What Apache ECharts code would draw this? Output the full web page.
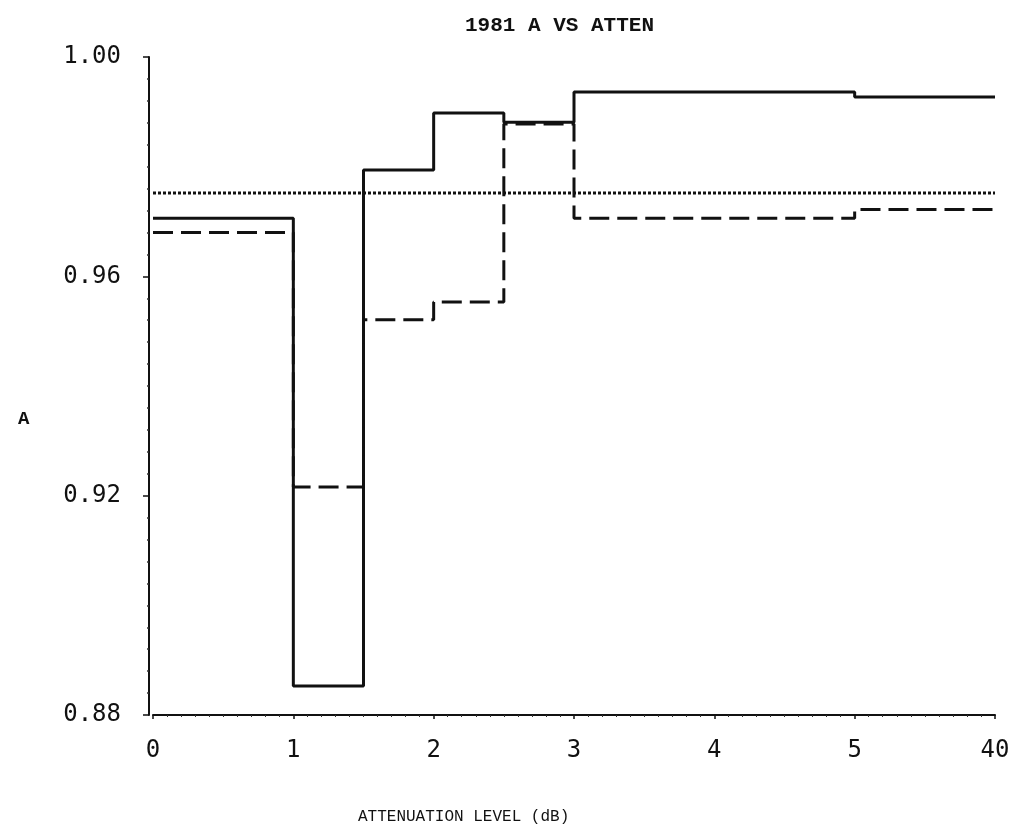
<!DOCTYPE html>
<html>
<head>
<meta charset="utf-8">
<script src="https://cdn.jsdelivr.net/npm/echarts@6/dist/echarts.min.js"></script>
<style>
  html, body { margin: 0; padding: 0; background: #fff; }
  #main { width: 1023px; height: 829px; }
</style>
</head>
<body>
<div id="main"></div>
<script>
// step edges along the attenuation axis (6 = the "40" position)
var stepStarts = [0, 1, 1.5, 2, 2.5, 3, 5];
var axisEnd = 6;
var xTickLabels = ['0', '1', '2', '3', '4', '5', '40'];

// A value held on each step
var solidA = [0.9706, 0.8853, 0.9794, 0.9898, 0.9881, 0.9936, 0.9927];
var dashedA = [0.968, 0.9216, 0.9521, 0.9553, 0.9878, 0.9706, 0.9722];
var dottedA = 0.9752;

function stepData(vals) {
    var out = [];
    for (var i = 0; i < vals.length; i++) {
        out.push([stepStarts[i], vals[i]]);
    }
    out.push([axisEnd, vals[vals.length - 1]]);
    return out;
}

var chartDom = document.getElementById('main');
var myChart = echarts.init(chartDom);

var lineBase = {
    type: 'line',
    step: 'end',
    showSymbol: false,
    symbol: 'none',
    animation: false
};

var option = {
    backgroundColor: '#fff',
    animation: false,
    title: [
        {
            text: '1981 A VS ATTEN',
            left: 460,
            top: 10,
            textStyle: { fontFamily: 'Liberation Mono', fontSize: 21, fontWeight: 'bold', color: '#111' }
        },
        {
            text: 'A',
            left: 13,
            top: 405,
            textStyle: { fontFamily: 'Liberation Mono', fontSize: 19, fontWeight: 'bold', color: '#111' }
        },
        {
            text: 'ATTENUATION LEVEL (dB)',
            left: 353,
            top: 804,
            textStyle: { fontFamily: 'Liberation Mono', fontSize: 16, fontWeight: 'normal', color: '#111' }
        }
    ],
    grid: {
        left: 153,
        right: 28,
        top: 57,
        bottom: 114
    },
    xAxis: {
        type: 'value',
        min: 0,
        max: axisEnd,
        interval: 1,
        axisLine: { lineStyle: { color: '#111', width: 2 } },
        axisTick: { length: 4, lineStyle: { color: '#111', width: 1.5 } },
        minorTick: { show: true, splitNumber: 10, length: 2, lineStyle: { color: '#333', width: 1 } },
        splitLine: { show: false },
        axisLabel: {
            margin: 24,
            fontFamily: 'DejaVu Sans Mono',
            fontSize: 24,
            color: '#111',
            formatter: function (v) { return xTickLabels[Math.round(v)]; }
        }
    },
    yAxis: {
        type: 'value',
        min: 0.88,
        max: 1.0,
        interval: 0.04,
        offset: 4,
        axisLine: { show: true, onZero: false, lineStyle: { color: '#111', width: 2 } },
        axisTick: { show: true, length: 6, lineStyle: { color: '#111', width: 1.5 } },
        minorTick: { show: true, splitNumber: 10, length: 2, lineStyle: { color: '#333', width: 1.5 } },
        splitLine: { show: false },
        axisLabel: {
            margin: 28,
            fontFamily: 'DejaVu Sans Mono',
            fontSize: 24,
            color: '#111',
            formatter: function (v) { return v.toFixed(2); }
        }
    },
    series: [
        Object.assign({}, lineBase, {
            name: 'solid',
            data: stepData(solidA),
            lineStyle: { color: '#111', width: 3, type: 'solid' }
        }),
        Object.assign({}, lineBase, {
            name: 'dashed',
            data: stepData(dashedA),
            lineStyle: { color: '#111', width: 3, type: [20, 8] }
        }),
        Object.assign({}, lineBase, {
            name: 'dotted',
            step: false,
            data: [[0, dottedA], [axisEnd, dottedA]],
            lineStyle: { color: '#111', width: 3, type: [3, 2] }
        })
    ]
};

option && myChart.setOption(option);
</script>
</body>
</html>
